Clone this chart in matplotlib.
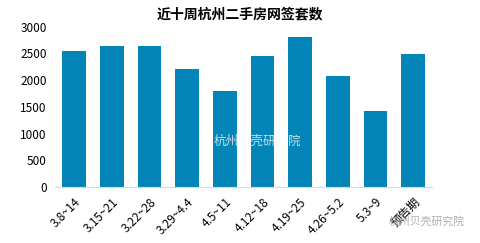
import matplotlib.pyplot as plt
import numpy as np

plt.rcParams['font.family'] = ['Noto Sans CJK SC', 'DejaVu Sans']

weeks = ["3.8~14", "3.15~21", "3.22~28", "3.29~4.4", "4.5~11",
         "4.12~18", "4.19~25", "4.26~5.2", "5.3~9", "预告期"]
deals = [2550, 2640, 2640, 2200, 1790, 2450, 2800, 2070, 1420, 2490]
yticks = [0, 500, 1000, 1500, 2000, 2500, 3000]

fig = plt.figure(figsize=(4.8, 2.43), dpi=100)
ax = fig.add_axes([0.115, 0.23, 0.785, 0.66])

x = np.arange(len(weeks))
ax.bar(x, deals, width=0.63, color="#0385B7")

ax.set_xlim(-0.5, len(weeks) - 0.5)
ax.set_ylim(0, 3000)
ax.set_yticks(yticks)
ax.set_yticklabels([str(v) for v in yticks], fontsize=8.5)
ax.set_xticks(x)
ax.set_xticklabels(weeks, rotation=45, ha="right", rotation_mode="anchor", fontsize=8.5)
ax.tick_params(axis="both", length=0, pad=6)

for side in ["top", "right", "left"]:
    ax.spines[side].set_visible(False)
ax.spines["bottom"].set_color("#D9D9D9")

fig.text(0.5, 0.94, "近十周杭州二手房网签套数", ha="center", va="center",
         fontsize=10, fontweight="bold")

# watermarks
fig.text(0.445, 0.42, "杭州贝壳研究院", ha="left", va="center", fontsize=9,
         color="white", alpha=0.75)
fig.text(0.81, 0.09, "杭州贝壳研究院", ha="left", va="center", fontsize=7.8,
         color="#9A9A9A", alpha=0.8)

fig.savefig("out.png", dpi=100)
